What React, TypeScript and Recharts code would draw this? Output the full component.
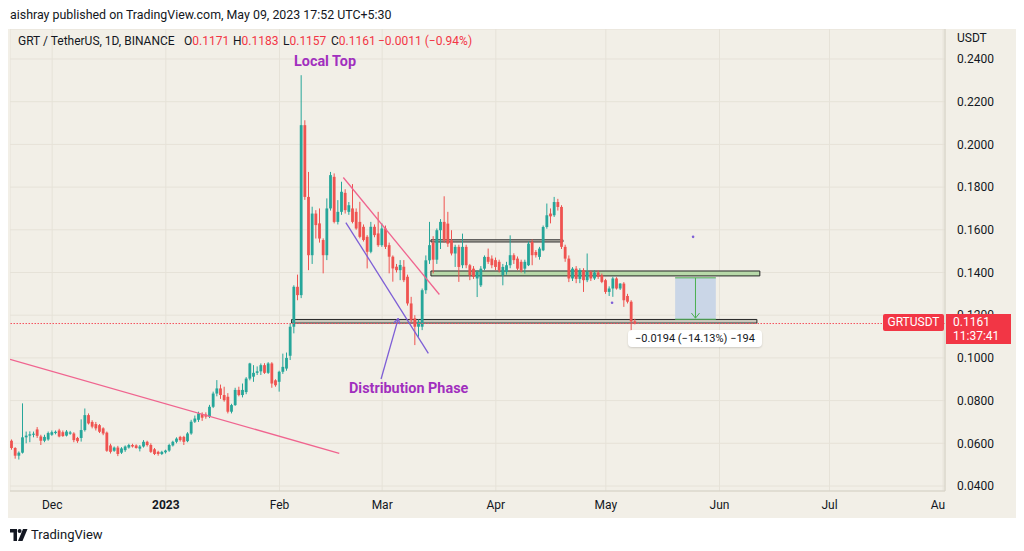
import {
  Bar,
  CartesianGrid,
  ComposedChart,
  ReferenceArea,
  ReferenceDot,
  ReferenceLine,
  XAxis,
  YAxis,
} from "recharts"

const UP = "#26a69a"
const DOWN = "#ef5350"
const BG = "#f2efe7"
const GRID = "#e6e2d8"
const TEXT = "#131722"
const PINK = "#f0648f"
const VIOLET = "#7e5fd6"
const PURPLE = "#a12fbe"

// [open, high, low, close] per day, first row = Nov 20 2022
const novCandles = [
  [0.0612, 0.0618, 0.057, 0.0578],
  [0.0578, 0.0582, 0.0528, 0.0542],
  [0.0542, 0.0562, 0.0524, 0.0556],
  [0.0556, 0.0787, 0.0552, 0.0628],
  [0.0628, 0.0655, 0.06, 0.0636],
  [0.0636, 0.0656, 0.0605, 0.0642],
  [0.064, 0.0655, 0.0628, 0.0645],
  [0.0665, 0.0676, 0.0625, 0.0635],
  [0.0632, 0.064, 0.0592, 0.0612],
  [0.0612, 0.064, 0.0605, 0.063],
  [0.0618, 0.0655, 0.0612, 0.0648],
]

const decCandles = [
  [0.064, 0.066, 0.0635, 0.0652],
  [0.0648, 0.066, 0.0642, 0.0654],
  [0.066, 0.0668, 0.0628, 0.0632],
  [0.0652, 0.066, 0.063, 0.0634],
  [0.0636, 0.0662, 0.0632, 0.0655],
  [0.0645, 0.0658, 0.064, 0.0651],
  [0.0646, 0.0652, 0.0605, 0.0615],
  [0.0625, 0.063, 0.0602, 0.061],
  [0.0625, 0.0712, 0.0608, 0.0662],
  [0.0662, 0.0763, 0.0655, 0.0732],
  [0.0732, 0.074, 0.0688, 0.0693],
  [0.07, 0.0708, 0.067, 0.0678],
  [0.069, 0.07, 0.066, 0.067],
  [0.0685, 0.069, 0.0648, 0.0654],
  [0.067, 0.0675, 0.0638, 0.0646],
  [0.065, 0.0655, 0.056, 0.0565],
  [0.059, 0.0598, 0.0552, 0.056],
  [0.0565, 0.0585, 0.056, 0.058],
  [0.058, 0.0588, 0.054, 0.055],
  [0.0556, 0.0582, 0.055, 0.0576],
  [0.0568, 0.059, 0.056, 0.0585],
  [0.058, 0.0598, 0.0575, 0.0592],
  [0.0592, 0.0598, 0.058, 0.0585],
  [0.059, 0.0595, 0.0575, 0.0578],
  [0.0575, 0.0592, 0.0562, 0.0585],
  [0.0585, 0.0615, 0.058, 0.0607],
  [0.0607, 0.0612, 0.0585, 0.0592],
  [0.0592, 0.06, 0.0555, 0.056],
  [0.0572, 0.0578, 0.0545, 0.055],
  [0.056, 0.0565, 0.0542, 0.055],
  [0.055, 0.0565, 0.0545, 0.056],
]

const janCandles = [
  [0.0558, 0.057, 0.0552, 0.0566],
  [0.0566, 0.0598, 0.056, 0.0592],
  [0.059, 0.0612, 0.0585, 0.0607],
  [0.0607, 0.0628, 0.06, 0.0622],
  [0.063, 0.0635, 0.0608, 0.0615],
  [0.063, 0.0635, 0.0592, 0.0607],
  [0.061, 0.0652, 0.0605, 0.0646],
  [0.0646, 0.071, 0.064, 0.0701],
  [0.0701, 0.073, 0.0695, 0.0716],
  [0.071, 0.0748, 0.07, 0.074],
  [0.0737, 0.0745, 0.0705, 0.072],
  [0.0735, 0.0745, 0.0715, 0.0725],
  [0.0725, 0.078, 0.0718, 0.0771],
  [0.0771, 0.0842, 0.0765, 0.0833],
  [0.0833, 0.0896, 0.082, 0.0857],
  [0.0857, 0.0875, 0.0808, 0.0826],
  [0.0826, 0.0865, 0.0795, 0.0802],
  [0.0818, 0.0835, 0.074, 0.0748],
  [0.0748, 0.0785, 0.074, 0.0779],
  [0.0779, 0.086, 0.0775, 0.085],
  [0.085, 0.0865, 0.082, 0.0826],
  [0.0826, 0.088, 0.0815, 0.085],
  [0.084, 0.091, 0.083, 0.0903],
  [0.0903, 0.0977, 0.0895, 0.0974],
  [0.0912, 0.0966, 0.0888, 0.093],
  [0.093, 0.096, 0.092, 0.0937],
  [0.0937, 0.0974, 0.092, 0.0966],
  [0.0966, 0.0975, 0.0925, 0.093],
  [0.093, 0.098, 0.0925, 0.0974],
  [0.0974, 0.098, 0.086, 0.088],
  [0.0895, 0.09, 0.0865, 0.0872],
]

const febCandles = [
  [0.0888, 0.094, 0.0842, 0.0935],
  [0.0935, 0.102, 0.0925, 0.0958],
  [0.095, 0.1025, 0.094, 0.1],
  [0.101, 0.116, 0.099, 0.1146],
  [0.1146, 0.134, 0.1115, 0.1333],
  [0.1333, 0.139, 0.127, 0.1294],
  [0.1294, 0.2324, 0.128, 0.209],
  [0.209, 0.2113, 0.174, 0.1754],
  [0.1754, 0.1871, 0.1411, 0.1481],
  [0.1481, 0.1708, 0.144, 0.1676],
  [0.1676, 0.1692, 0.1559, 0.1622],
  [0.163, 0.17, 0.154, 0.1559],
  [0.1552, 0.156, 0.1396, 0.1481],
  [0.1481, 0.1747, 0.1458, 0.17],
  [0.17, 0.1871, 0.169, 0.1856],
  [0.1848, 0.1864, 0.163, 0.1637],
  [0.1637, 0.1739, 0.1625, 0.1684],
  [0.1684, 0.1825, 0.167, 0.1778],
  [0.1773, 0.179, 0.1676, 0.1692],
  [0.1684, 0.173, 0.167, 0.1715],
  [0.17, 0.1814, 0.163, 0.1637],
  [0.1684, 0.17, 0.16, 0.1606],
  [0.1637, 0.1731, 0.156, 0.1567],
  [0.1614, 0.1625, 0.1545, 0.1552],
  [0.1567, 0.1575, 0.1419, 0.1497],
  [0.1497, 0.1637, 0.149, 0.1614],
  [0.1614, 0.1625, 0.1565, 0.1575],
  [0.1583, 0.1684, 0.152, 0.1528],
]

const marCandles = [
  [0.1528, 0.163, 0.152, 0.1606],
  [0.1606, 0.162, 0.151, 0.152],
  [0.1528, 0.154, 0.1396, 0.1474],
  [0.1474, 0.148, 0.1357, 0.1419],
  [0.1427, 0.144, 0.14, 0.1411],
  [0.1411, 0.1458, 0.1364, 0.1435],
  [0.1427, 0.1458, 0.1355, 0.1364],
  [0.138, 0.139, 0.1245, 0.1255],
  [0.1255, 0.1286, 0.1165, 0.1177],
  [0.1185, 0.12, 0.106, 0.1146],
  [0.1146, 0.118, 0.1099, 0.1169],
  [0.1146, 0.1325, 0.113, 0.1317],
  [0.1317, 0.148, 0.13, 0.1457],
  [0.1457, 0.1637, 0.144, 0.1528],
  [0.154, 0.157, 0.1396, 0.146],
  [0.146, 0.1606, 0.144, 0.1598],
  [0.1598, 0.165, 0.151, 0.1637],
  [0.1637, 0.1757, 0.154, 0.1551],
  [0.1629, 0.1684, 0.152, 0.1535],
  [0.1551, 0.1598, 0.148, 0.1489],
  [0.1489, 0.153, 0.1426, 0.152],
  [0.152, 0.153, 0.1356, 0.1426],
  [0.1434, 0.1582, 0.142, 0.152],
  [0.152, 0.153, 0.142, 0.1434],
  [0.1434, 0.144, 0.1364, 0.1387],
  [0.1418, 0.143, 0.137, 0.138],
  [0.1372, 0.141, 0.1285, 0.1403],
  [0.134, 0.143, 0.1332, 0.1418],
  [0.1418, 0.148, 0.141, 0.1473],
  [0.1473, 0.1512, 0.144, 0.145],
  [0.1465, 0.148, 0.142, 0.1434],
]

const aprCandles = [
  [0.1458, 0.147, 0.141, 0.1426],
  [0.145, 0.146, 0.14, 0.141],
  [0.1387, 0.144, 0.134, 0.1426],
  [0.1403, 0.145, 0.139, 0.1434],
  [0.1434, 0.1574, 0.142, 0.1481],
  [0.1481, 0.149, 0.144, 0.1458],
  [0.1465, 0.1475, 0.141, 0.1418],
  [0.145, 0.146, 0.14, 0.141],
  [0.1418, 0.146, 0.1395, 0.145],
  [0.1434, 0.1545, 0.143, 0.1535],
  [0.1543, 0.1555, 0.1434, 0.1481],
  [0.1496, 0.1505, 0.147, 0.1481],
  [0.1473, 0.152, 0.146, 0.1512],
  [0.1504, 0.162, 0.15, 0.1613],
  [0.1613, 0.1723, 0.1605, 0.1668],
  [0.1676, 0.17, 0.163, 0.1663],
  [0.1668, 0.1754, 0.166, 0.173],
  [0.173, 0.1745, 0.169, 0.1707],
  [0.1707, 0.1715, 0.151, 0.152],
  [0.152, 0.153, 0.145, 0.1465],
  [0.1465, 0.148, 0.1355, 0.1372],
  [0.1372, 0.1425, 0.136, 0.1418],
  [0.1418, 0.143, 0.135, 0.137],
  [0.137, 0.142, 0.135, 0.1411],
  [0.1411, 0.142, 0.1309, 0.1364],
  [0.1364, 0.1489, 0.1355, 0.1403],
  [0.1403, 0.141, 0.136, 0.1372],
  [0.1372, 0.1411, 0.1365, 0.14],
  [0.14, 0.141, 0.137, 0.138],
  [0.1387, 0.1395, 0.135, 0.1356],
]

const mayCandles = [
  [0.1364, 0.137, 0.13, 0.1309],
  [0.1309, 0.1335, 0.129, 0.1325],
  [0.1325, 0.138, 0.1286, 0.1372],
  [0.1372, 0.1378, 0.132, 0.1325],
  [0.1325, 0.135, 0.1318, 0.1348],
  [0.1348, 0.1355, 0.1239, 0.127],
  [0.129, 0.13, 0.1255, 0.1263],
  [0.1263, 0.127, 0.1114, 0.1171],
  [0.1171, 0.1183, 0.1157, 0.1161],
]

const monthTicks = [11, 42, 73, 101, 132, 162, 193, 223, 254]
const monthLabels = ["Dec", "2023", "Feb", "Mar", "Apr", "May", "Jun", "Jul", "Au"]
const priceTicks = [0.04, 0.06, 0.08, 0.1, 0.12, 0.14, 0.16, 0.18, 0.2, 0.22, 0.24]
const lastPrice = 0.1161

// drawings: [day, price] end points
const trendLines = [
  { color: PINK, from: [-0.5, 0.0993], to: [89.3, 0.0553] },
  { color: PINK, from: [90.4, 0.1845], to: [116.6, 0.1297] },
  { color: VIOLET, from: [91.1, 0.1634], to: [113.6, 0.1021] },
  { color: VIOLET, from: [100.7, 0.0901], to: [105.4, 0.1185] },
  { color: VIOLET, from: [105.4, 0.1185], to: [104.2, 0.1165] },
  { color: VIOLET, from: [105.4, 0.1185], to: [105.8, 0.1158] },
]

const zones = [
  { x1: 76.3, x2: 203.2, y1: 0.1163, y2: 0.118, fill: "#c8c7bb" },
  { x1: 114.3, x2: 204.0, y1: 0.1384, y2: 0.1407, fill: "#b8d9a9" },
  { x1: 114.3, x2: 150.3, y1: 0.1543, y2: 0.1553, fill: "#cfccc2" },
]

const measure = { x1: 180.9, x2: 192.0, top: 0.1375, bottom: 0.1181 }
const measureArrow = [
  { from: [186.45, 0.1375], to: [186.45, 0.1186] },
  { from: [186.45, 0.1186], to: [185.35, 0.121] },
  { from: [186.45, 0.1186], to: [187.55, 0.121] },
]
const markerDots = [
  [163.7, 0.1258],
  [185.8, 0.1567],
]

const candles = [...novCandles, ...decCandles, ...janCandles, ...febCandles, ...marCandles, ...aprCandles, ...mayCandles].map(
  ([o, h, l, c], day) => ({ day, o, h, l, c })
)

function Candle(props: any) {
  const { x, y, width, height, payload } = props
  if (!payload || payload.h == null || !height) return null
  const { o, h, l, c } = payload
  const top = Math.min(y, y + height)
  const span = Math.abs(height)
  const k = span / (h - l)
  const cx = x + width / 2
  const bodyTop = top + (h - Math.max(o, c)) * k
  const bodyBot = top + (h - Math.min(o, c)) * k
  const color = c >= o ? UP : DOWN
  return (
    <g>
      <line x1={cx} x2={cx} y1={top} y2={top + span} stroke={color} strokeWidth={1} />
      <rect x={cx - 1.4} y={bodyTop} width={2.8} height={Math.max(bodyBot - bodyTop, 1)} fill={color} />
    </g>
  )
}

function MonthTick(props: any) {
  const { x, y, index } = props
  const label = monthLabels[index]
  const last = index === monthLabels.length - 1
  return (
    <text
      x={last ? x + 2 : x}
      y={y}
      dy={10}
      textAnchor={last ? "end" : "middle"}
      fontSize={12}
      fontWeight={label === "2023" ? 700 : 400}
      fill={TEXT}
    >
      {label}
    </text>
  )
}

function Label({ left, top, children, style }: any) {
  return (
    <div style={{ position: "absolute", left, top, whiteSpace: "nowrap", lineHeight: "16px", ...style }}>{children}</div>
  )
}

export default function App() {
  const red = { color: "#f23645" }
  return (
    <div
      style={{
        position: "absolute",
        left: 0,
        top: 0,
        width: 1024,
        height: 551,
        background: "#ffffff",
        overflow: "hidden",
        fontFamily: "Roboto, 'Noto Sans', Arial, sans-serif",
        color: TEXT,
      }}
    >
      <Label left={10} top={7} style={{ fontSize: 12.4 }}>
        aishray published on TradingView.com, May 09, 2023 17:52 UTC+5:30
      </Label>

      <div style={{ position: "absolute", left: 8, top: 29, width: 1008, height: 489, background: BG }} />

      <div style={{ position: "absolute", left: 10, top: 29 }}>
        <ComposedChart width={1005} height={488} data={candles} margin={{ top: 0, right: 0, bottom: 0, left: 0 }}>
          <CartesianGrid stroke={GRID} />
          <XAxis
            dataKey="day"
            type="number"
            domain={[-0.5, 254.5]}
            ticks={monthTicks}
            interval={0}
            allowDataOverflow
            height={26}
            tickLine={false}
            axisLine={{ stroke: "#d5d1c6" }}
            tick={<MonthTick />}
          />
          <YAxis
            orientation="right"
            type="number"
            domain={[0.03766, 0.25404]}
            ticks={priceTicks}
            allowDataOverflow
            width={70}
            tickLine={false}
            tickMargin={6}
            axisLine={{ stroke: "#d5d1c6" }}
            tick={{ fontSize: 12, fill: TEXT }}
            tickFormatter={(v: number) => v.toFixed(4)}
          />
          <Bar
            dataKey={(d: any) => [d.l, d.h]}
            barSize={3}
            isAnimationActive={false}
            shape={(p: any) => <Candle {...p} />}
          />
          {zones.map((z, i) => (
            <ReferenceArea
              key={i}
              x1={z.x1}
              x2={z.x2}
              y1={z.y1}
              y2={z.y2}
              fill={z.fill}
              fillOpacity={1}
              stroke="#262626"
              strokeWidth={1}
              ifOverflow="visible"
            />
          ))}
          <ReferenceLine y={lastPrice} stroke="#f4525e" strokeDasharray="1.5 1.5" strokeWidth={1} />
          <ReferenceArea
            x1={measure.x1}
            x2={measure.x2}
            y1={measure.bottom}
            y2={measure.top}
            fill="#c3d1e6"
            fillOpacity={0.85}
            stroke="none"
            ifOverflow="visible"
          />
          <ReferenceLine
            segment={[{ x: measure.x1, y: measure.top }, { x: measure.x2, y: measure.top }]}
            stroke="#4caf50"
            ifOverflow="visible"
          />
          <ReferenceLine
            segment={[{ x: measure.x1, y: measure.bottom }, { x: measure.x2, y: measure.bottom }]}
            stroke="#4caf50"
            ifOverflow="visible"
          />
          {measureArrow.map((s, i) => (
            <ReferenceLine
              key={"m" + i}
              segment={[{ x: s.from[0], y: s.from[1] }, { x: s.to[0], y: s.to[1] }]}
              stroke="#4caf50"
              ifOverflow="visible"
            />
          ))}
          {trendLines.map((t, i) => (
            <ReferenceLine
              key={"t" + i}
              segment={[{ x: t.from[0], y: t.from[1] }, { x: t.to[0], y: t.to[1] }]}
              stroke={t.color}
              strokeWidth={1.3}
              ifOverflow="visible"
            />
          ))}
          {markerDots.map(([x, y], i) => (
            <ReferenceDot key={"d" + i} x={x} y={y} r={1.3} fill={VIOLET} stroke="none" ifOverflow="visible" />
          ))}
        </ComposedChart>
      </div>

      <Label left={18} top={33} style={{ fontSize: 12 }}>
        GRT / TetherUS, 1D, BINANCE
      </Label>
      <Label left={184} top={33} style={{ fontSize: 12 }}>
        O<span style={red}>0.1171</span>
      </Label>
      <Label left={233} top={33} style={{ fontSize: 12 }}>
        H<span style={red}>0.1183</span>
      </Label>
      <Label left={283} top={33} style={{ fontSize: 12 }}>
        L<span style={red}>0.1157</span>
      </Label>
      <Label left={331} top={33} style={{ fontSize: 12 }}>
        C<span style={red}>0.1161</span>
      </Label>
      <Label left={378} top={33} style={{ fontSize: 12, ...red }}>
        −0.0011 (−0.94%)
      </Label>

      <Label left={957} top={30} style={{ fontSize: 12 }}>
        USDT
      </Label>

      <Label left={294} top={54} style={{ fontSize: 14.4, fontWeight: 700, color: PURPLE }}>
        Local Top
      </Label>
      <Label left={349} top={381} style={{ fontSize: 14.4, fontWeight: 700, color: PURPLE }}>
        Distribution Phase
      </Label>

      <div
        style={{
          position: "absolute",
          left: 628,
          top: 330,
          width: 134,
          height: 17,
          background: "#ffffff",
          borderRadius: 4,
          boxShadow: "0 1px 2px rgba(0,0,0,0.15)",
          fontSize: 11,
          lineHeight: "17px",
          textAlign: "center",
          whiteSpace: "nowrap",
        }}
      >
        −0.0194 (−14.13%) −194
      </div>

      <div
        style={{
          position: "absolute",
          left: 883,
          top: 314,
          width: 61,
          height: 17,
          background: "#f23645",
          borderRadius: 2,
          color: "#fff",
          fontSize: 12,
          lineHeight: "17px",
          textAlign: "center",
        }}
      >
        GRTUSDT
      </div>
      <div
        style={{
          position: "absolute",
          left: 946,
          top: 314,
          width: 65,
          height: 30,
          background: "#f23645",
          color: "#fff",
          fontSize: 12,
          lineHeight: "14px",
          paddingLeft: 7,
          paddingTop: 1,
          boxSizing: "border-box",
        }}
      >
        <div>0.1161</div>
        <div>11:37:41</div>
      </div>

      <svg style={{ position: "absolute", left: 10, top: 529 }} width={18} height={12} viewBox="0 0 18 12">
        <path d="M0 0 H7 V12 H3.5 V3.5 H0 Z" fill={TEXT} />
        <circle cx={9.6} cy={2} r={2} fill={TEXT} />
        <path d="M13 0 H17.5 L12.5 12 H8 Z" fill={TEXT} />
      </svg>
      <Label left={31} top={527} style={{ fontSize: 13 }}>
        TradingView
      </Label>
    </div>
  )
}
